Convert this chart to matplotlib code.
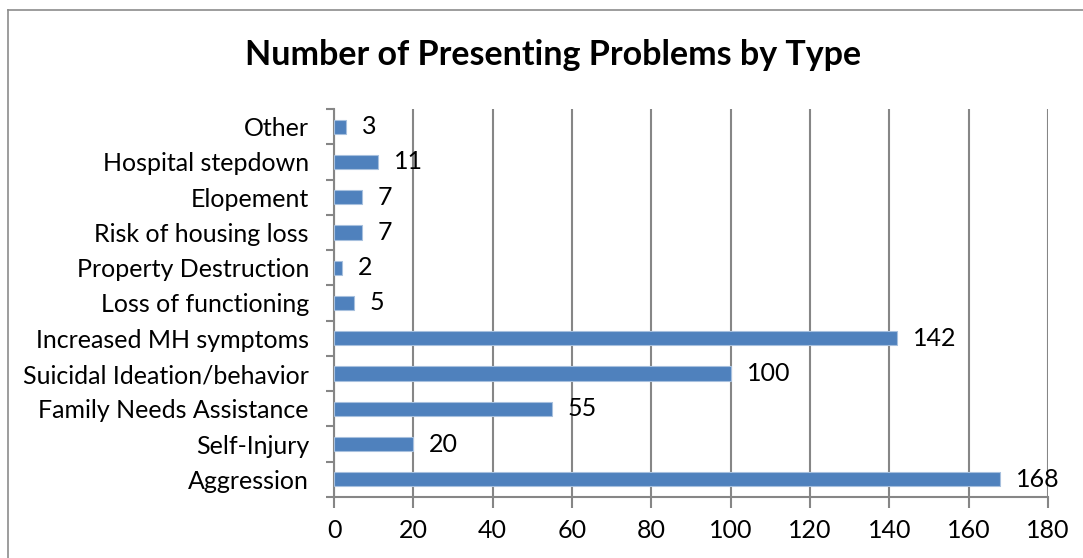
import numpy as np
import matplotlib.pyplot as plt
from matplotlib.lines import Line2D

categories = ["Aggression", "Self-Injury", "Family Needs Assistance",
              "Suicidal Ideation/behavior", "Increased MH symptoms",
              "Loss of functioning", "Property Destruction",
              "Risk of housing loss", "Elopement", "Hospital stepdown", "Other"]
counts = [168, 20, 55, 100, 142, 5, 2, 7, 7, 11, 3]
xticks = [0, 20, 40, 60, 80, 100, 120, 140, 160, 180]

plt.rcParams['font.family'] = ['Lato', 'DejaVu Sans']

W, H = 1083, 558
fig = plt.figure(figsize=(W / 100, H / 100), dpi=100)
ax = fig.add_axes([334 / W, 1 - 497 / H, (1048 - 334) / W, (497 - 109) / H])

y = np.arange(len(categories))
ax.barh(y, counts, height=0.4, color='#4F81BD', edgecolor='#A7C0DE', linewidth=0.8, zorder=3)
for yi, v in zip(y, counts):
    ax.text(v + 4.0, yi, str(v), va='center', ha='left', fontsize=18, color='black', zorder=4)

ax.set_xlim(0, 180)
ax.set_ylim(-0.5, len(categories) - 0.5)
ax.set_xticks(xticks)
ax.set_xticklabels([str(t) for t in xticks], fontsize=18)
ax.set_yticks(np.arange(len(categories) + 1) - 0.5, minor=False)
ax.set_yticklabels([])
ax.set_yticks(y, minor=True)
ax.set_yticklabels(categories, minor=True, fontsize=18)
ax.tick_params(axis='y', which='minor', length=0, pad=18)
ax.tick_params(axis='y', which='major', length=6, width=1.5, color='#868686', direction='out')
ax.tick_params(axis='x', length=8, width=1.5, color='#868686', direction='out', pad=8)
ax.grid(axis='x', color='#868686', linewidth=1.5, zorder=0)

for s in ['top', 'right']:
    ax.spines[s].set_visible(False)
for s in ['left', 'bottom']:
    ax.spines[s].set_color('#868686')
    ax.spines[s].set_linewidth(1.5)

fig.text(553 / W, 1 - 55 / H, "Number of Presenting Problems by Type",
         ha='center', va='center', fontsize=24.5, fontweight='bold')

# chart frame (top and left edges visible)
fig.add_artist(Line2D([8 / W, 1], [1 - 10 / H, 1 - 10 / H], color='#8C8C8C', linewidth=1.2))
fig.add_artist(Line2D([8 / W, 8 / W], [0, 1 - 10 / H], color='#8C8C8C', linewidth=1.2))

fig.savefig('out.png', dpi=100)
